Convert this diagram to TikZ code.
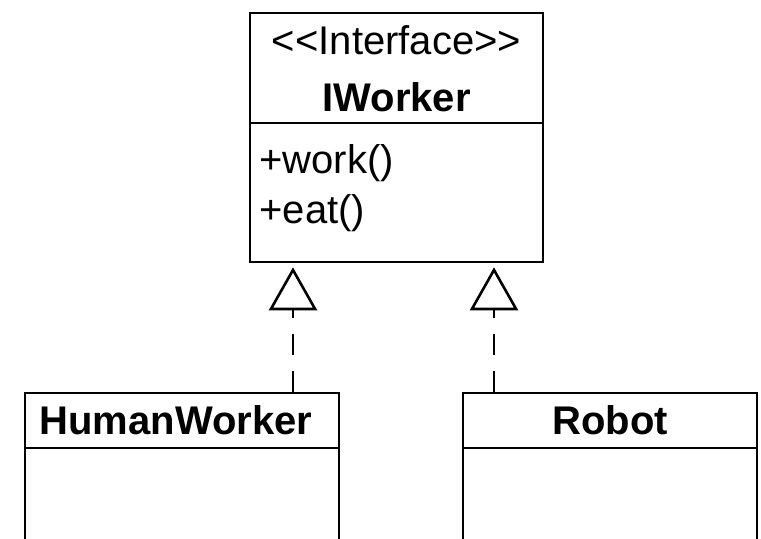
\documentclass[tikz,border=0pt]{standalone}
\usepackage{fontspec}
\setmainfont{Liberation Sans}
\usetikzlibrary{arrows.meta}

\begin{document}
\begin{tikzpicture}[x=0.5pt,y=-0.5pt]
\useasboundingbox (0,0) rectangle (761,539);
\clip (0,0) rectangle (761,539);
\begin{scope}[
    every node/.style={rectangle,draw=black,line width=1.3pt,fill=white,inner sep=0pt,
                       font=\fontsize{20}{24}\selectfont\bfseries}]
    \node (iwHead) at (396.5,68) [minimum width=146.5pt,minimum height=55pt] {};
    \node (iwBody) at (396.5,192.5) [minimum width=146.5pt,minimum height=69.5pt] {};

    \node (humanHead) at (182,420.5) [minimum width=157pt,minimum height=27.5pt] {\hspace{-6pt}HumanWorker};
    \node (humanBody) at (182,504) [minimum width=157pt,minimum height=56pt] {};

    \node (robotHead) at (610,420.5) [minimum width=147pt,minimum height=27.5pt] {Robot};
    \node (robotBody) at (610,504) [minimum width=147pt,minimum height=56pt] {};
\end{scope}

\begin{scope}[every node/.style={inner sep=0pt,font=\fontsize{20}{24}\selectfont}]
    \node (iwStereo) at (396.5,40) {<{}<Interface>{}>};
    \node (iwName) at (396.5,97) [font=\fontsize{20}{24}\selectfont\bfseries] {IWorker};
    \node (iwWork) at (259,163) [anchor=west] {+work()};
    \node (iwEat) at (259,213) [anchor=west] {+eat()};
\end{scope}

\begin{scope}[>={Triangle[open,length=21.5pt,width=24pt]},
              every path/.style={line width=1.3pt,dash pattern=on 10.5pt off 8pt}]
    \draw [->,shorten >=2pt] (humanHead.north -| 293,0) -- (iwBody.south -| 293,0);
    \draw [->,shorten >=2pt] (robotHead.north -| 494,0) -- (iwBody.south -| 494,0);
\end{scope}
\end{tikzpicture}
\end{document}
